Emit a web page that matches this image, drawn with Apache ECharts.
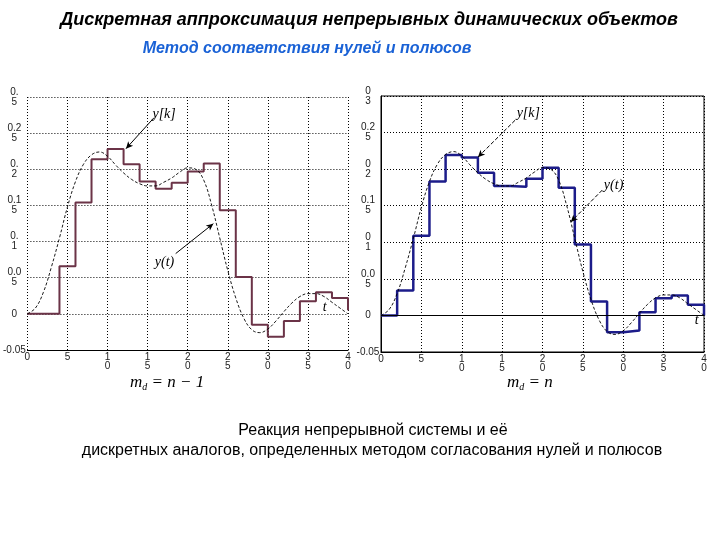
<!DOCTYPE html>
<html><head><meta charset="utf-8">
<script src="https://cdn.jsdelivr.net/npm/echarts@6/dist/echarts.min.js"></script>
<style>html,body{margin:0;padding:0;background:#fff}#c{width:720px;height:540px}</style>
</head><body><div id="c"></div>
<script>
// time samples (sampling period 2)
const sampleT = [0,2,4,6,8,10,12,14,16,18,20,22,24,26,28,30,32,34,36,38,40];
// discrete responses (held values)
const leftStep  = [0,0,0.066,0.154,0.214,0.228,0.207,0.183,0.173,0.1815,0.197,0.208,0.1435,0.051,-0.015,-0.0315,-0.010,0.0176,0.030,0.022,0.005];
const rightStep = [0,0.034,0.109,0.183,0.2195,0.216,0.195,0.177,0.176,0.187,0.202,0.1745,0.097,0.019,-0.023,-0.0205,0.0045,0.0236,0.0273,0.0145,0];
// continuous response y(t)
const curveT = [0,1,2,3,4,5,6,7,8,9,10,11,12,13,14,15,16,17,18,19,20,21,22,23,24,25,26,27,28,29,30,31,32,33,34,35,36,37,38,39,40];
const curveY = [0,0.008,0.03,0.065,0.105,0.148,0.183,0.207,0.22,0.224,0.218,0.206,0.195,0.186,0.18,0.177,0.177,0.182,0.188,0.196,0.202,0.2,0.185,0.15,0.105,0.06,0.022,-0.006,-0.022,-0.026,-0.021,-0.01,0.003,0.015,0.024,0.028,0.028,0.024,0.016,0.008,0];
// tick labels
const xTickLabels = ["0","5","1\n0","1\n5","2\n0","2\n5","3\n0","3\n5","4\n0"];
const leftYLabels  = ["-0.05","0","0.0\n5","0.\n1","0.1\n5","0.\n2","0.2\n5","0.\n5"];
const rightYLabels = ["-0.05","0","0.0\n5","0\n1","0.1\n5","0\n2","0.2\n5","0\n3"];

const stepData = a => sampleT.map((t,i)=>[t,a[i]]);
const curveData = curveT.map((t,i)=>[t,curveY[i]]);

const dotted = {show:true, lineStyle:{color:'#000', type:[1,2], width:1}};
function xAx(idx){
  return {type:'value', gridIndex:idx, min:0, max:40, interval:5,
    axisLine:{show:true, onZero:false, lineStyle:{color:'#000', width:1}},
    axisTick:{show:false}, splitLine:dotted,
    axisLabel:{color:'#222', fontSize:10, lineHeight:9, margin:3, fontFamily:'Liberation Sans',
      formatter:(v,i)=>xTickLabels[i]}};
}
function yAx(idx, labels, frame){
  return {type:'value', gridIndex:idx, min:-0.05, max:0.3, interval:0.05,
    axisLine:{show:frame, lineStyle:{color:'#000', width:1}},
    axisTick:{show:false}, splitLine:dotted,
    axisLabel:{color:'#222', fontSize:10, lineHeight:10, margin:13, align:'center', fontFamily:'Liberation Sans',
      formatter:(v,i)=>labels[i]}};
}
const lblStyle = {fontFamily:'Liberation Serif', fontStyle:'italic', fontSize:14, color:'#000'};
function arrowLine(a,b){
  return [{coord:a, symbol:'none'},{coord:b, symbol:'arrow', symbolSize:[5,7]}];
}
function notes(items){
  return {symbol:'circle', symbolSize:0, silent:true,
    data: items.map(it=>({coord:it.c, label:{show:true, formatter:it.t, position:it.p||'right', distance:0, ...lblStyle}}))};
}
const formulaRich = {
  m:{fontFamily:'Liberation Serif', fontStyle:'italic', fontSize:17, fill:'#000'},
  d:{fontFamily:'Liberation Serif', fontStyle:'italic', fontSize:10, fill:'#000', padding:[8,0,0,0]},
  r:{fontFamily:'Liberation Serif', fontStyle:'italic', fontSize:17, fill:'#000'}
};
const option = {
  animation:false,
  backgroundColor:'#fff',
  grid:[
    {left:26, right:372, top:97, bottom:190, show:false},
    {left:381, right:16, top:96, bottom:188, show:true, borderColor:'#000', borderWidth:1, backgroundColor:'transparent'}
  ],
  xAxis:[xAx(0), xAx(1)],
  yAxis:[yAx(0,leftYLabels,false), yAx(1,rightYLabels,true)],
  series:[
    {type:'line', xAxisIndex:0, yAxisIndex:0, data:curveData, smooth:0.4, showSymbol:false,
      lineStyle:{color:'#000', width:0.9, type:[3,2]}, z:3,
      markLine:{silent:true, symbol:['none','arrow'], label:{show:false},
        lineStyle:{color:'#000', width:1, type:'solid'},
        data:[arrowLine([15.8,0.2714],[12.3,0.2285]), arrowLine([18.5,0.0834],[23.2,0.1248])]},
      markPoint:notes([{c:[15.6,0.2765], t:'y[k]'},{c:[15.9,0.071], t:'y(t)'},{c:[37.1,0.0087], t:'t', p:'inside'}])
    },
    {type:'line', xAxisIndex:0, yAxisIndex:0, data:stepData(leftStep), step:'end', showSymbol:false,
      lineStyle:{color:'#6b3347', width:2}, z:2},
    {type:'line', xAxisIndex:1, yAxisIndex:1, data:curveData, smooth:0.4, showSymbol:false,
      lineStyle:{color:'#000', width:0.9, type:[3,2]}, z:3,
      markLine:{silent:true, symbol:['none','arrow'], label:{show:false},
        lineStyle:{color:'#000', width:1, type:[4,2]},
        data:[arrowLine([16.6,0.2668],[12.0,0.2164]), arrowLine([27.4,0.1714],[23.5,0.1278])]},
      markPoint:notes([{c:[16.8,0.2764], t:'y[k]'},{c:[27.6,0.1782], t:'y(t)'},{c:[39.1,-0.006], t:'t', p:'inside'}])
    },
    {type:'line', xAxisIndex:1, yAxisIndex:1, data:stepData(rightStep), step:'end', showSymbol:false,
      lineStyle:{color:'#1c1c8a', width:2.5}, z:2,
      markLine:{silent:true, symbol:'none', label:{show:false}, lineStyle:{color:'#000', width:1, type:'solid'},
        data:[{yAxis:0}]}}
  ],
  graphic:[
    {type:'text', x:369, y:11, style:{text:'Дискретная аппроксимация непрерывных динамических объектов',
      fontFamily:'Liberation Sans', fontWeight:'bold', fontStyle:'italic', fontSize:18, fill:'#000', align:'center'}},
    {type:'text', x:307, y:41, style:{text:'Метод соответствия нулей и полюсов',
      fontFamily:'Liberation Sans', fontWeight:'bold', fontStyle:'italic', fontSize:16, fill:'#1a62d6', align:'center'}},
    {type:'text', x:130, y:374, style:{text:'{m|m}{d|d}{r| = n − 1}', rich:formulaRich}},
    {type:'text', x:507, y:374, style:{text:'{m|m}{d|d}{r| = n}', rich:formulaRich}},
    {type:'text', x:373, y:423, style:{text:'Реакция непрерывной системы и её',
      fontFamily:'Liberation Sans', fontSize:16, fill:'#000', align:'center'}},
    {type:'text', x:372, y:443, style:{text:'дискретных аналогов, определенных методом согласования нулей и полюсов',
      fontFamily:'Liberation Sans', fontSize:16, fill:'#000', align:'center'}}
  ]
};
const chart = echarts.init(document.getElementById('c'), null, {renderer:'canvas'});
chart.setOption(option);
</script></body></html>
